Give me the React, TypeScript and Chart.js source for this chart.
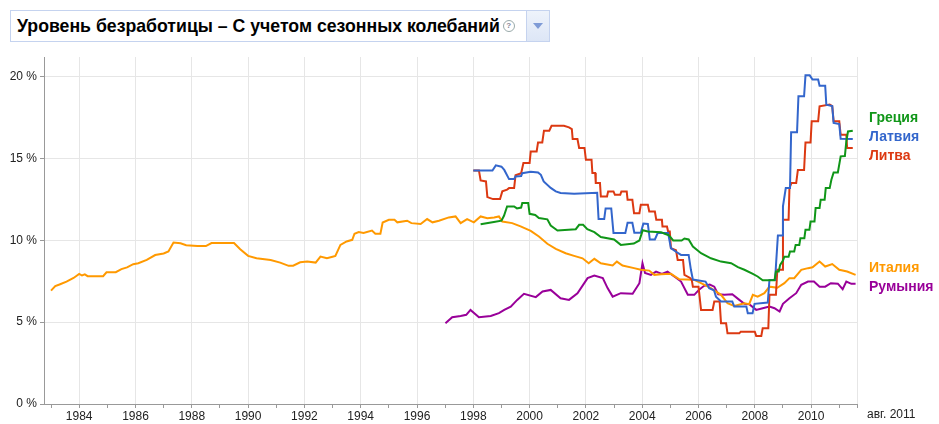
import React, { useEffect, useRef } from "react";
import { Chart, registerables } from "chart.js";

Chart.register(...registerables);

// ---- Data (decimal years, % unemployment) ----
const seriesNames = ["Греция", "Латвия", "Литва", "Италия", "Румыния"];
const seriesColors = ["#109618", "#3366cc", "#dc3912", "#ff9900", "#990099"];

const greeceYears = [1998.26, 1998.73, 1999.0, 1999.09, 1999.2, 1999.45, 1999.55, 1999.7, 1999.74, 1999.95, 2000.0, 2000.2, 2000.33, 2000.63, 2000.75, 2000.99, 2001.64, 2001.76, 2001.9, 2002.05, 2002.3, 2002.53, 2003.0, 2003.24, 2003.7, 2003.9, 2004.02, 2004.2, 2004.67, 2004.8, 2004.95, 2005.1, 2005.4, 2005.5, 2005.65, 2005.8, 2006.09, 2006.44, 2006.8, 2007.16, 2007.4, 2007.63, 2007.93, 2008.1, 2008.28, 2008.7, 2008.75, 2008.85, 2008.9, 2009.0, 2009.05, 2009.2, 2009.25, 2009.4, 2009.45, 2009.58, 2009.62, 2009.76, 2009.8, 2009.94, 2009.98, 2010.12, 2010.16, 2010.3, 2010.34, 2010.48, 2010.52, 2010.66, 2010.72, 2010.8, 2010.95, 2011.05, 2011.2, 2011.25, 2011.31, 2011.48];
const greeceValues = [10.98, 11.12, 11.2, 11.5, 12.07, 12.07, 11.95, 12.0, 12.28, 12.28, 11.62, 11.55, 11.36, 11.28, 10.9, 10.6, 10.68, 10.95, 10.95, 10.68, 10.5, 10.2, 10.05, 9.72, 9.8, 9.99, 10.62, 10.54, 10.5, 10.4, 10.3, 9.99, 9.99, 10.11, 10.05, 9.62, 9.21, 8.9, 8.7, 8.6, 8.36, 8.2, 7.95, 7.79, 7.56, 7.56, 8.09, 8.09, 8.5, 8.77, 9.0, 9.0, 9.32, 9.32, 9.72, 9.72, 10.13, 10.13, 10.64, 10.64, 11.15, 11.15, 11.97, 11.97, 12.48, 12.48, 13.19, 13.19, 13.7, 14.15, 14.15, 15.13, 15.15, 16.04, 16.65, 16.7];

const latviaYears = [1998.0, 1998.68, 1998.8, 1999.0, 1999.1, 1999.27, 1999.45, 1999.5, 1999.7, 1999.74, 2000.04, 2000.3, 2000.4, 2000.5, 2000.75, 2000.93, 2001.1, 2001.58, 2002.4, 2002.45, 2002.65, 2002.7, 2002.9, 2002.98, 2003.4, 2003.48, 2003.65, 2003.72, 2003.95, 2004.04, 2004.2, 2004.27, 2004.45, 2004.55, 2004.92, 2005.02, 2005.2, 2005.38, 2005.65, 2005.73, 2005.8, 2006.25, 2006.38, 2006.55, 2006.62, 2006.8, 2007.2, 2007.27, 2007.7, 2007.75, 2007.92, 2007.99, 2008.46, 2008.52, 2008.72, 2008.76, 2008.82, 2008.97, 2009.0, 2009.1, 2009.25, 2009.29, 2009.5, 2009.55, 2009.75, 2009.8, 2009.95, 2010.05, 2010.25, 2010.3, 2010.5, 2010.54, 2010.75, 2010.8, 2011.0, 2011.05, 2011.48];
const latviaValues = [14.27, 14.27, 14.58, 14.5, 14.3, 13.74, 13.74, 13.9, 13.93, 14.1, 14.19, 14.15, 14.0, 13.6, 13.2, 12.99, 12.89, 12.84, 12.9, 11.3, 11.3, 11.95, 11.95, 10.44, 10.44, 11.07, 11.07, 10.46, 10.46, 11.02, 11.0, 10.05, 10.05, 10.44, 10.44, 9.52, 9.3, 9.11, 9.11, 8.2, 7.6, 7.48, 7.08, 6.95, 6.56, 6.26, 6.26, 5.95, 5.95, 5.55, 5.55, 6.12, 6.2, 7.58, 7.58, 8.7, 10.3, 10.3, 12.07, 13.19, 13.19, 16.6, 16.6, 18.8, 18.8, 20.08, 20.08, 19.82, 19.82, 19.45, 19.45, 18.29, 18.2, 17.17, 17.1, 16.2, 16.19];

const lithuaniaYears = [1998.0, 1998.2, 1998.26, 1998.45, 1998.5, 1998.7, 1998.95, 1999.03, 1999.2, 1999.27, 1999.45, 1999.5, 1999.7, 1999.78, 2000.0, 2000.04, 2000.25, 2000.3, 2000.45, 2000.51, 2000.7, 2000.78, 2001.22, 2001.4, 2001.5, 2001.53, 2001.7, 2001.76, 2001.95, 2002.0, 2002.2, 2002.23, 2002.33, 2002.35, 2002.5, 2002.53, 2002.75, 2002.79, 2002.98, 2003.03, 2003.22, 2003.26, 2003.45, 2003.48, 2003.65, 2003.71, 2003.9, 2003.95, 2004.2, 2004.25, 2004.45, 2004.5, 2004.7, 2004.72, 2004.88, 2004.92, 2004.98, 2005.02, 2005.2, 2005.26, 2005.45, 2005.5, 2005.7, 2005.76, 2005.8, 2006.0, 2006.09, 2006.5, 2006.56, 2006.75, 2006.8, 2006.98, 2007.03, 2007.45, 2007.5, 2008.0, 2008.05, 2008.23, 2008.28, 2008.48, 2008.52, 2008.75, 2008.8, 2008.97, 2009.0, 2009.2, 2009.23, 2009.3, 2009.47, 2009.53, 2009.75, 2009.8, 2009.98, 2010.02, 2010.25, 2010.3, 2010.66, 2010.75, 2010.8, 2011.0, 2011.05, 2011.25, 2011.28, 2011.48];
const lithuaniaValues = [14.27, 14.27, 13.66, 13.6, 12.64, 12.52, 12.52, 12.99, 13.1, 13.19, 13.19, 13.97, 14.1, 14.72, 14.72, 15.43, 15.43, 15.98, 15.98, 16.7, 16.7, 17.0, 17.0, 16.9, 16.8, 16.19, 16.19, 15.64, 15.64, 14.92, 14.92, 14.11, 14.11, 13.5, 13.5, 12.68, 12.68, 12.99, 12.99, 12.78, 12.78, 12.99, 12.99, 12.48, 12.48, 11.66, 11.66, 12.17, 12.17, 11.76, 11.76, 11.25, 11.25, 10.84, 10.84, 10.54, 10.54, 9.52, 9.4, 8.8, 8.8, 7.89, 7.7, 7.58, 7.17, 7.17, 5.75, 5.75, 6.26, 6.26, 4.93, 4.93, 4.32, 4.32, 4.42, 4.42, 4.16, 4.16, 4.63, 4.63, 6.67, 6.67, 8.2, 8.2, 11.25, 11.25, 13.19, 13.5, 13.5, 14.3, 14.3, 15.98, 15.98, 17.27, 17.27, 18.19, 18.29, 18.2, 17.27, 17.27, 16.45, 16.45, 15.64, 15.64];

const italyYears = [1983.0, 1983.15, 1983.3, 1983.55, 1983.8, 1984.0, 1984.1, 1984.2, 1984.3, 1984.85, 1984.97, 1985.3, 1985.5, 1985.7, 1985.92, 1986.1, 1986.4, 1986.7, 1987.0, 1987.17, 1987.35, 1987.6, 1987.8, 1988.2, 1988.5, 1988.7, 1989.5, 1989.72, 1990.0, 1990.3, 1990.8, 1991.14, 1991.44, 1991.6, 1991.85, 1992.1, 1992.4, 1992.57, 1992.8, 1993.0, 1993.1, 1993.28, 1993.5, 1993.7, 1993.78, 1993.93, 1994.1, 1994.4, 1994.52, 1994.7, 1994.78, 1995.0, 1995.2, 1995.3, 1995.65, 1995.8, 1996.13, 1996.36, 1996.55, 1996.78, 1997.13, 1997.37, 1997.55, 1997.78, 1998.02, 1998.26, 1998.5, 1998.74, 1998.91, 1999.03, 1999.38, 1999.68, 2000.04, 2000.33, 2000.63, 2000.93, 2001.28, 2001.58, 2001.88, 2002.1, 2002.3, 2002.53, 2002.95, 2003.1, 2003.3, 2003.71, 2003.95, 2004.25, 2004.43, 2004.67, 2005.02, 2005.32, 2005.6, 2005.85, 2006.09, 2006.44, 2006.8, 2007.03, 2007.27, 2007.63, 2007.8, 2007.93, 2008.1, 2008.34, 2008.52, 2008.8, 2009.05, 2009.23, 2009.4, 2009.65, 2009.89, 2010.05, 2010.3, 2010.5, 2010.75, 2011.0, 2011.28, 2011.58];
const italyValues = [6.93, 7.2, 7.3, 7.48, 7.7, 7.95, 7.85, 7.92, 7.81, 7.81, 8.05, 8.05, 8.24, 8.35, 8.54, 8.6, 8.8, 9.1, 9.2, 9.32, 9.87, 9.82, 9.7, 9.65, 9.65, 9.83, 9.83, 9.46, 9.05, 8.9, 8.8, 8.64, 8.44, 8.45, 8.66, 8.7, 8.64, 9.01, 8.9, 9.0, 9.05, 9.72, 9.93, 10.03, 10.4, 10.5, 10.45, 10.6, 10.4, 10.4, 11.09, 11.25, 11.25, 11.1, 11.2, 11.05, 11.0, 11.3, 11.1, 11.2, 11.4, 11.46, 11.05, 11.3, 11.1, 11.46, 11.35, 11.4, 11.46, 11.15, 11.05, 10.85, 10.58, 10.23, 9.79, 9.48, 9.21, 9.05, 8.9, 8.6, 8.87, 8.6, 8.46, 8.7, 8.46, 8.3, 8.2, 8.15, 7.89, 7.92, 7.95, 7.62, 7.6, 7.58, 7.38, 7.08, 6.67, 6.16, 5.99, 6.16, 6.1, 6.67, 6.56, 6.77, 7.17, 7.1, 7.38, 7.69, 7.69, 8.2, 8.3, 8.35, 8.7, 8.4, 8.55, 8.2, 8.09, 7.89];

const romaniaYears = [1997.01, 1997.25, 1997.55, 1997.75, 1997.9, 1998.2, 1998.62, 1998.91, 1999.1, 1999.33, 1999.56, 1999.8, 2000.22, 2000.46, 2000.75, 2001.1, 2001.4, 2001.7, 2002.06, 2002.3, 2002.6, 2002.77, 2002.95, 2003.24, 2003.66, 2003.9, 2004.01, 2004.1, 2004.31, 2004.49, 2004.7, 2004.9, 2005.14, 2005.38, 2005.62, 2005.85, 2006.03, 2006.2, 2006.4, 2006.56, 2006.7, 2006.92, 2007.2, 2007.45, 2007.63, 2007.8, 2008.05, 2008.28, 2008.52, 2008.7, 2008.88, 2009.0, 2009.23, 2009.47, 2009.65, 2009.89, 2010.1, 2010.3, 2010.5, 2010.7, 2010.95, 2011.12, 2011.25, 2011.43, 2011.58];
const romaniaValues = [4.93, 5.3, 5.38, 5.45, 5.75, 5.3, 5.38, 5.55, 5.75, 5.95, 6.36, 6.73, 6.53, 6.87, 6.97, 6.46, 6.36, 6.77, 7.69, 7.85, 7.69, 7.08, 6.56, 6.77, 6.73, 7.38, 8.6, 8.0, 7.89, 8.09, 7.95, 8.09, 7.79, 7.48, 6.67, 6.67, 7.0, 7.22, 7.3, 7.17, 6.7, 6.67, 6.7, 6.36, 6.12, 6.1, 5.75, 5.85, 5.95, 5.85, 5.65, 6.12, 6.46, 6.77, 7.28, 7.48, 7.48, 7.17, 7.17, 7.38, 7.35, 7.02, 7.48, 7.34, 7.34];

// ---- Axes ----
const X_MIN = 1982.75;
const X_MAX = 2011.63;
const xLabeledYears = [1984, 1986, 1988, 1990, 1992, 1994, 1996, 1998, 2000, 2002, 2004, 2006, 2008, 2010];
const xMinorYears = [1983, 1985, 1987, 1989, 1991, 1993, 1995, 1997, 1999, 2001, 2003, 2005, 2007, 2009, 2011];
const xEndLabel = "авг. 2011";
const yTicks = [0, 5, 10, 15, 20];
const Y_MAX = 21.2;
const titleText = "Уровень безработицы – С учетом сезонных колебаний";

const seriesYears = [greeceYears, latviaYears, lithuaniaYears, italyYears, romaniaYears];
const seriesValues = [greeceValues, latviaValues, lithuaniaValues, italyValues, romaniaValues];

const FONT = "Arial, 'Liberation Sans', sans-serif";

const endLabelsPlugin = {
  id: "endLabels",
  afterDraw(chart: any) {
    const ctx = chart.ctx;
    const yScale = chart.scales.y;
    const xScale = chart.scales.x;
    const area = chart.chartArea;
    const spacing = 19;
    const items = chart.data.datasets.map((ds: any, i: number) => {
      const last = ds.data[ds.data.length - 1];
      return { i, want: yScale.getPixelForValue(last.y), label: ds.label, color: ds.borderColor };
    });
    items.sort((a: any, b: any) => a.want - b.want);
    let groups = items.map((it: any) => ({ items: [it], center: it.want }));
    let changed = true;
    while (changed) {
      changed = false;
      for (let g = 0; g < groups.length - 1; g++) {
        const a = groups[g], b = groups[g + 1];
        const aBottom = a.center + ((a.items.length - 1) / 2) * spacing;
        const bTop = b.center - ((b.items.length - 1) / 2) * spacing;
        if (bTop - aBottom < spacing) {
          const merged = a.items.concat(b.items);
          const center = merged.reduce((s: number, it: any) => s + it.want, 0) / merged.length;
          groups.splice(g, 2, { items: merged, center });
          changed = true;
          break;
        }
      }
    }
    ctx.save();
    ctx.font = "bold 14px " + FONT;
    ctx.textAlign = "left";
    ctx.textBaseline = "middle";
    groups.forEach((g: any) => {
      g.items.forEach((it: any, k: number) => {
        const y = g.center - ((g.items.length - 1) / 2) * spacing + k * spacing - 2;
        ctx.fillStyle = it.color;
        ctx.fillText(it.label, area.right + 12, y);
      });
    });
    // end-of-axis date label
    ctx.font = "12px " + FONT;
    ctx.fillStyle = "#222";
    ctx.textBaseline = "top";
    ctx.fillText(xEndLabel, xScale.getPixelForValue(X_MAX) + 10, area.bottom + 5);
    ctx.restore();
  },
};

export default function App() {
  const canvasRef = useRef<HTMLCanvasElement | null>(null);

  useEffect(() => {
    const canvas = canvasRef.current;
    if (!canvas) return;
    const datasets = seriesNames.map((name, i) => ({
      label: name,
      data: seriesYears[i].map((x, k) => ({ x, y: seriesValues[i][k] })),
      borderColor: seriesColors[i],
      backgroundColor: seriesColors[i],
      borderWidth: 2,
      pointRadius: 0,
      tension: 0,
      fill: false,
    }));
    const allXTicks = xLabeledYears.concat(xMinorYears).concat([X_MAX]).sort((a, b) => a - b);
    const chart = new Chart(canvas, {
      type: "line",
      data: { datasets },
      options: {
        animation: false,
        responsive: false,
        devicePixelRatio: 1,
        layout: { padding: { top: 57, right: 82, bottom: 0, left: 0 } },
        plugins: { legend: { display: false }, tooltip: { enabled: false }, title: { display: false } },
        scales: {
          x: {
            type: "linear",
            min: X_MIN,
            max: X_MAX,
            afterBuildTicks: (scale: any) => {
              scale.ticks = allXTicks.map((v) => ({ value: v }));
            },
            afterFit: (scale: any) => {
              scale.height = 20;
            },
            ticks: {
              autoSkip: false,
              maxRotation: 0,
              padding: 1,
              color: "#222",
              font: { family: FONT, size: 12 },
              callback: (value: any) => (xLabeledYears.indexOf(Number(value)) >= 0 ? String(value) : ""),
            },
            grid: {
              color: (c: any) => {
                const v = c.tick ? c.tick.value : null;
                return v !== null && (xLabeledYears.indexOf(v) >= 0 || v === X_MAX) ? "#e6e6e6" : "rgba(0,0,0,0)";
              },
              tickColor: "#999",
              tickLength: 4,
              drawTicks: true,
            },
            border: { display: true, color: "#999" },
          },
          y: {
            type: "linear",
            min: 0,
            max: Y_MAX,
            afterBuildTicks: (scale: any) => {
              scale.ticks = yTicks.map((v) => ({ value: v }));
            },
            afterFit: (scale: any) => {
              scale.width = 44;
            },
            ticks: {
              padding: 3,
              color: "#222",
              font: { family: FONT, size: 12 },
              callback: (value: any) => value + " %",
            },
            grid: { color: "#e6e6e6", tickColor: "#999", tickLength: 4 },
            border: { display: true, color: "#999" },
          },
        },
      },
      plugins: [endLabelsPlugin],
    });
    return () => chart.destroy();
  }, []);

  return (
    <div style={{ position: "fixed", left: 0, top: 0, width: 939, height: 424, background: "#fff", overflow: "hidden" }}>
      <canvas ref={canvasRef} width={939} height={424} style={{ position: "absolute", left: 0, top: 0 }} />
      <div
        style={{
          position: "absolute",
          left: 10,
          top: 10,
          width: 540,
          height: 32,
          boxSizing: "border-box",
          border: "1px solid #c5d3ef",
          background: "#fff",
          display: "flex",
          alignItems: "center",
          fontFamily: FONT,
        }}
      >
        <span style={{ fontWeight: "bold", fontSize: 17.7, color: "#000", marginLeft: 6, whiteSpace: "nowrap" }}>{titleText}</span>
        <span
          style={{
            display: "inline-block",
            width: 10,
            height: 10,
            borderRadius: "50%",
            border: "1px solid #9aa",
            color: "#889",
            fontSize: 8,
            lineHeight: "10px",
            textAlign: "center",
            marginLeft: 3,
            fontWeight: "bold",
          }}
        >
          ?
        </span>
        <div style={{ flex: 1 }} />
        <div
          style={{
            width: 22,
            height: "100%",
            borderLeft: "1px solid #c5d3ef",
            background: "linear-gradient(#eef3fb, #dde6f6)",
            display: "flex",
            alignItems: "center",
            justifyContent: "center",
          }}
        >
          <div style={{ width: 0, height: 0, borderLeft: "5px solid transparent", borderRight: "5px solid transparent", borderTop: "6px solid #7f9bd6" }} />
        </div>
      </div>
    </div>
  );
}
